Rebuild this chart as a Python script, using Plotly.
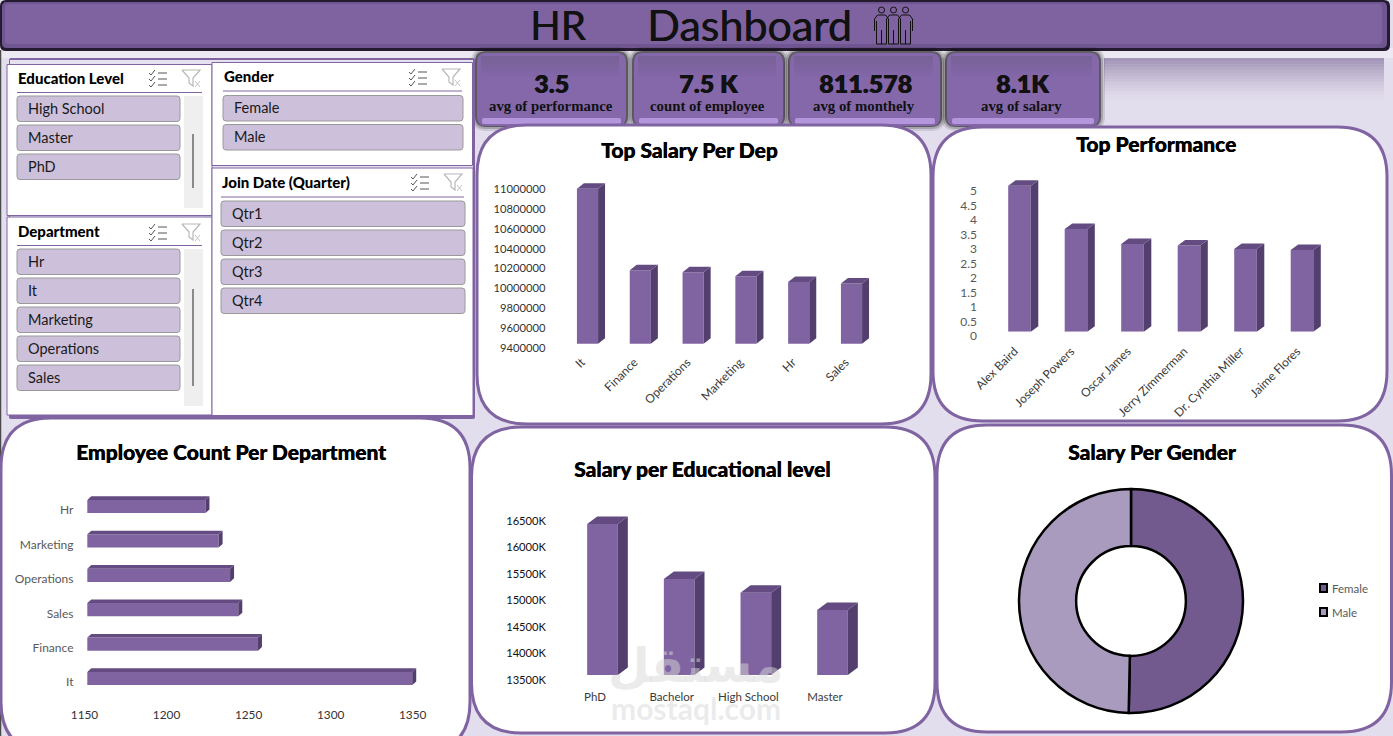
import plotly.graph_objects as go

W, H = 1393, 736

# ---- data ----
salary_departments = ["It", "Finance", "Operations", "Marketing", "Hr", "Sales"]
salary_values = [10960000, 10140000, 10120000, 10080000, 10020000, 10005000]
salary_ticks = [9400000, 9600000, 9800000, 10000000, 10200000, 10400000, 10600000, 10800000, 11000000]

performers = ["Alex Baird", "Joseph Powers", "Oscar James", "Jerry Zimmerman", "Dr. Cynthia Miller", "Jaime Flores"]
performance_values = [5.03, 3.54, 3.02, 2.97, 2.85, 2.82]
performance_ticks = [0, 0.5, 1, 1.5, 2, 2.5, 3, 3.5, 4, 4.5, 5]

count_departments = ["It", "Finance", "Sales", "Operations", "Marketing", "Hr"]
count_values = [1348, 1254, 1242, 1237, 1230, 1222]
count_ticks = [1150, 1200, 1250, 1300, 1350]

education_levels = ["PhD", "Bachelor", "High School", "Master"]
education_values = [16350, 15310, 15050, 14725]
education_ticks = [13500, 14000, 14500, 15000, 15500, 16000, 16500]
education_tick_text = ["13500K", "14000K", "14500K", "15000K", "15500K", "16000K", "16500K"]

genders = ["Female", "Male"]
gender_salary = [30600000, 30200000]

kpi_values = ["3.5", "7.5 K", "811.578", "8.1K"]
kpi_labels = ["avg of performance", "count of employee", "avg of monthely", "avg of salary"]

education_filter = ["High School", "Master", "PhD"]
gender_filter = ["Female", "Male"]
department_filter = ["Hr", "It", "Marketing", "Operations", "Sales"]
quarter_filter = ["Qtr1", "Qtr2", "Qtr3", "Qtr4"]

# ---- palette ----
PURPLE = "#8064a2"
SIDE = "#533f6e"
TOP = "#644c82"
BACK = "#e3deee"
FONT = "Lato"
THICK = "0.4px 0 0 #000000"

shapes, notes = [], []


def fx(x):
    return x / W


def fy(y):
    return 1 - y / H


def rrect_path(x0, y0, x1, y1, r):
    a, b, c, d = fx(x0), fx(x1), fy(y0), fy(y1)
    rx, ry = fx(r), r / H
    return (f"M{a+rx},{c} L{b-rx},{c} Q{b},{c} {b},{c-ry} L{b},{d+ry} Q{b},{d} {b-rx},{d} "
            f"L{a+rx},{d} Q{a},{d} {a},{d+ry} L{a},{c-ry} Q{a},{c} {a+rx},{c} Z")


def box(x0, y0, x1, y1, fill, line=None, width=0, r=0, opacity=1, layer="below"):
    shapes.append(dict(type="path", path=rrect_path(x0, y0, x1, y1, r), xref="paper", yref="paper",
                       fillcolor=fill, opacity=opacity, layer=layer,
                       line=dict(color=line or "rgba(0,0,0,0)", width=width)))


def stroke(points, color, width=1, layer="below"):
    path = ""
    for run in points:
        path += " M" + " L".join(f"{fx(x)},{fy(y)}" for x, y in run)
    shapes.append(dict(type="path", path=path.strip(), xref="paper", yref="paper", layer=layer,
                       line=dict(color=color, width=width)))


def disc(cx, cy, r, color, width=1):
    shapes.append(dict(type="circle", xref="paper", yref="paper", x0=fx(cx - r), x1=fx(cx + r),
                       y0=fy(cy + r), y1=fy(cy - r), layer="below",
                       line=dict(color=color, width=width)))


def text(x, y, s, size, color="#000000", anchor="center", family=FONT, weight=400, shadow=None):
    font = dict(size=size, color=color, family=family, weight=weight)
    if shadow:
        font["shadow"] = shadow
    notes.append(dict(x=fx(x), y=fy(y), xref="paper", yref="paper", text=s, showarrow=False,
                      xanchor=anchor, yanchor="middle", borderpad=0, font=font))


# ---- page background, header and KPI cards ----
box(-2, -2, W + 2, H + 2, BACK)
box(-2, 48, W + 2, 58, "#ece9f3")
stroke([[(0.5, 50), (0.5, H)]], "#4a4a4a", 1.5)

box(0, 0, 1390, 51, "#251b30", r=6)
box(2, 2, 1387, 48, "#6f5690", r=5)
box(5, 4, 1382, 44, "#7f62a0", r=3)
text(558, 25, "HR", 40, "#111111", shadow="0.6px 0 0 #111111")
text(749, 25, "Dashboard", 43, "#111111", shadow="0.6px 0 0 #111111")

for cx in (881.5, 893.5, 905.5):
    disc(cx, 10, 3, "#111111")
    stroke([[(cx - 7, 31), (cx - 7, 19), (cx - 4, 15), (cx + 4, 15), (cx + 7, 19), (cx + 7, 31)],
            [(cx - 5, 44), (cx - 5, 21)], [(cx + 5, 44), (cx + 5, 21)],
            [(cx, 44), (cx, 30)], [(cx - 5, 44), (cx + 5, 44)]], "#111111", 1)

# fading strip to the right of the cards
for step in range(14):
    box(1104, 58 + step * 3, 1384, 61 + step * 3, "#7d6a96", opacity=0.62 * (1 - step / 14) ** 1.4)

card_spans = [(476, 627), (633, 784), (789, 941), (946, 1100)]
for (x0, x1), value, label in zip(card_spans, kpi_values, kpi_labels):
    for grow, shade in ((5, 0.10), (3, 0.18), (1, 0.45)):
        box(x0 - grow, 52 - grow, x1 + grow, 126 + grow, "#000000", r=10 + grow, opacity=shade)
    box(x0 + 1, 53, x1 - 1, 126, "#8468aa", r=9)
    for k in range(7):
        box(x0 + 5, 56 + k * 3, x1 - 8, 59 + k * 3, "#6c5a84", opacity=0.5 * (1 - k / 7))
    box(x0 + 6, 118, x1 - 6, 124, "#b496dc", r=2)
    text((x0 + x1) / 2, 83, value, 25, "#111111", weight=800, shadow="0.4px 0 0 #111111")
    text((x0 + x1) / 2 - 1, 106, label, 14.8, "#111111", family="Liberation Serif", weight=700)

# ---- slicers ----
box(9, 58, 475, 419, PURPLE, r=2)
box(10, 60, 473, 415, "#e6e1ee")
box(7, 64.5, 212, 215.5, "#ffffff", PURPLE, 1)
box(7, 217, 212, 415, "#ffffff", PURPLE, 1)
box(212, 62.5, 472.5, 165.5, "#ffffff", PURPLE, 1)
box(212, 168, 473, 415.5, "#ffffff", PURPLE, 1)


def slicer(title, items, left, right, head_y, rule_y, first_y, step, item_right, icon_a, icon_b, icon_y):
    text(left, head_y - 1, title, 15, "#000000", "left", weight=900)
    stroke([[(left, rule_y), (right, rule_y)]], PURPLE, 1)
    for n, item in enumerate(items):
        top = first_y + n * step
        box(left, top, item_right, top + 25.5, "#cdc0da", "#9a9a9a", 1, r=3)
        text(left + 9.5, top + 12.5, item, 14.5, "#1a1a1a", "left")
    # select-all icon
    for k in range(3):
        y = icon_y + 3 + k * 6
        stroke([[(icon_a, y), (icon_a + 2, y + 2), (icon_a + 6, y - 3)],
                [(icon_a + 9, y), (icon_a + 18, y)]], "#555555", 1)
    # clear-filter icon
    stroke([[(icon_b, icon_y), (icon_b + 18, icon_y), (icon_b + 11, icon_y + 8), (icon_b + 11, icon_y + 16),
             (icon_b + 7, icon_y + 13), (icon_b + 7, icon_y + 8), (icon_b, icon_y)]], "#b8b8b8", 1.2)
    stroke([[(icon_b + 13, icon_y + 11), (icon_b + 18, icon_y + 17)],
            [(icon_b + 18, icon_y + 11), (icon_b + 13, icon_y + 17)]], "#c4c4c4", 1)


slicer("Education Level", education_filter, 17, 202, 79, 92.5, 96, 29, 180, 149, 182, 70)
slicer("Gender", gender_filter, 223, 462, 77, 91, 95.5, 29, 463, 409, 442, 69)
slicer("Join Date (Quarter)", quarter_filter, 221, 464, 183, 197, 201, 29, 465, 411, 444, 174)
slicer("Department", department_filter, 17, 202, 232, 245.5, 249, 29, 180, 149, 182, 224)
for top, bottom, thumb_top, thumb_bottom in [(96, 208, 134, 188), (249, 406, 289, 386)]:
    box(184, top, 203, bottom, "#efefef")
    box(192, thumb_top, 194, thumb_bottom, "#8a8a8a")

# ---- chart panels ----
for x0, y0, x1, y1 in [(477, 125, 931, 424), (933, 127, 1387, 421), (1, 418, 470, 752),
                       (471.5, 427, 935, 733), (937, 425, 1391.5, 732)]:
    box(x0, y0, x1, y1, "#ffffff", PURPLE, 3, r=50)

text(689, 149, "Top Salary Per Dep", 21, "#000000", weight=900, shadow=THICK)
text(1156, 143, "Top Performance", 21, "#000000", weight=900, shadow=THICK)
text(231, 451, "Employee Count Per Department", 21, "#000000", weight=900, shadow=THICK)
text(702, 468, "Salary per Educational level", 21, "#000000", weight=900, shadow=THICK)
text(1152, 451, "Salary Per Gender", 21, "#000000", weight=900, shadow=THICK)

fig = go.Figure()
layout_axes = {}
axis_no = [0]


def new_pair():
    axis_no[0] += 1
    n = axis_no[0]
    return n, ("x" if n == 1 else f"x{n}"), ("y" if n == 1 else f"y{n}")


def axis_key(letter, n):
    return f"{letter}axis" if n == 1 else f"{letter}axis{n}"


def faces(tops, half, dx, dy, low, horizontal=False):
    """Side and top faces of the extruded bars, derived from the bar values."""
    side_a, side_b, top_a, top_b = [], [], [], []
    for i, v in enumerate(tops):
        l, r = i - half, i + half
        if horizontal:
            side = [(v, l), (v + dx, l + dy), (v + dx, r + dy), (v, r), (v, l)]
            top = [(low, r), (low + dx, r + dy), (v + dx, r + dy), (v, r), (low, r)]
        else:
            side = [(r, low), (r + dx, low + dy), (r + dx, v + dy), (r, v), (r, low)]
            top = [(l, v), (l + dx, v + dy), (r + dx, v + dy), (r, v), (l, v)]
        for pts, xs, ys in ((side, side_a, side_b), (top, top_a, top_b)):
            xs.extend([p[0] for p in pts] + [None])
            ys.extend([p[1] for p in pts] + [None])
    return (side_a, side_b), (top_a, top_b)


def column_chart(cats, vals, ticks, tick_text, first_c, spacing, base_px, unit_px, vmin, vmax,
                 width, depth, label_dy, tick_right, x_label_y, x_label_dx, angle, y_color,
                 x_size=12, y_size=11.2):
    n, xa, ya = new_pair()
    top_px = base_px - (vmax - vmin) * unit_px
    span = [-0.5, len(cats) - 0.5 + 0.6]
    left = first_c - spacing / 2
    right = left + (span[1] - span[0]) * spacing
    layout_axes[axis_key("x", n)] = dict(domain=[fx(left), fx(right)], range=span, visible=False,
                                         anchor=ya, fixedrange=True, automargin=False)
    layout_axes[axis_key("y", n)] = dict(domain=[fy(base_px), fy(top_px)], range=[vmin, vmax], visible=False,
                                         anchor=xa, fixedrange=True, automargin=False)
    fig.add_bar(x=list(range(len(cats))), y=vals, width=width, marker=dict(color=PURPLE, line=dict(width=0)),
                xaxis=xa, yaxis=ya, customdata=cats, hovertemplate="%{customdata}: %{y}<extra></extra>")
    side, top = faces(vals, width / 2, depth[0] / spacing, depth[1] / unit_px, vmin)
    for (xs, ys), color in ((side, SIDE), (top, TOP)):
        fig.add_scatter(x=xs, y=ys, mode="lines", fill="toself", fillcolor=color, line=dict(width=0),
                        hoverinfo="skip", xaxis=xa, yaxis=ya)
    # tick labels sit on their own axes, offset from the bars' floor plane
    m, xb, yb = new_pair()
    layout_axes[axis_key("x", m)] = dict(domain=[fx(left + x_label_dx), fx(right + x_label_dx)], range=span,
                                         anchor="free", position=fy(x_label_y), tickmode="array",
                                         tickvals=list(range(len(cats))), ticktext=cats, tickangle=angle,
                                         showgrid=False, zeroline=False, showline=False, ticks="",
                                         tickfont=dict(family=FONT, size=x_size, color="#3a3a3a"), fixedrange=True,
                                         automargin=False)
    layout_axes[axis_key("y", m)] = dict(domain=[fy(base_px + label_dy), fy(top_px + label_dy)], range=[vmin, vmax],
                                         anchor="free", position=fx(tick_right), tickmode="array",
                                         tickvals=ticks, ticktext=tick_text, showgrid=False, zeroline=False,
                                         showline=False, ticks="",
                                         tickfont=dict(family=FONT, size=y_size, color=y_color), fixedrange=True,
                                         automargin=False)
    fig.add_scatter(x=[None], y=[None], xaxis=xb, yaxis=yb, hoverinfo="skip")


column_chart(salary_departments, salary_values, salary_ticks, [str(t) for t in salary_ticks],
             587.5, 52.8, 343.7, 159 / 1600000, 9400000, 11200000, 0.4, (7, 5.5), 4.3, 545.5, 352, -6, -45, "#333333")
column_chart(performers, performance_values, performance_ticks, [str(t) for t in performance_ticks],
             1019.5, 56.5, 331.7, 29.0, 0, 5.6, 0.4, (7.5, 5.5), 4.2, 977, 341, -5, -45, "#595959", y_size=12)
column_chart(education_levels, education_values, education_ticks, education_tick_text,
             602.5, 76.67, 675, 0.053, 13500, 16800, 0.4, (10, 7.5), 5, 546, 688, -7.5, 0, "#111111", x_size=11.5)

# horizontal bars
n, xa, ya = new_pair()
unit_x, unit_y = 328.2 / 200, 34.4
base_x = 87.3
span_x = [1150, 1380]
span_y = [-0.5, 5.7]
y_bottom = 678.5 + 0.5 * unit_y
y_top = y_bottom - (span_y[1] - span_y[0]) * unit_y
x_right = base_x + (span_x[1] - span_x[0]) * unit_x
layout_axes[axis_key("x", n)] = dict(domain=[fx(base_x), fx(x_right)], range=span_x, visible=False, anchor=ya,
                                     fixedrange=True, automargin=False)
layout_axes[axis_key("y", n)] = dict(domain=[fy(y_bottom), fy(y_top)], range=span_y, visible=False, anchor=xa,
                                     fixedrange=True, automargin=False)
bar_half = 13.2 / unit_y / 2
fig.add_bar(y=list(range(6)), x=count_values, orientation="h", width=bar_half * 2,
            marker=dict(color=PURPLE, line=dict(width=0)), xaxis=xa, yaxis=ya,
            customdata=count_departments, hovertemplate="%{customdata}: %{x}<extra></extra>")
side, top = faces(count_values, bar_half, 4 / unit_x, 3.6 / unit_y, 1150, horizontal=True)
for (xs, ys), color in ((side, SIDE), (top, TOP)):
    fig.add_scatter(x=xs, y=ys, mode="lines", fill="toself", fillcolor=color, line=dict(width=0),
                    hoverinfo="skip", xaxis=xa, yaxis=ya)
m, xb, yb = new_pair()
layout_axes[axis_key("x", m)] = dict(domain=[fx(base_x - 2.8), fx(x_right - 2.8)], range=span_x, anchor="free",
                                     position=fy(706), tickmode="array", tickvals=count_ticks, ticks="",
                                     showgrid=False, zeroline=False, showline=False, fixedrange=True,
                                     automargin=False, tickfont=dict(family=FONT, size=11.8, color="#333333"))
layout_axes[axis_key("y", m)] = dict(domain=[fy(y_bottom + 3.6), fy(y_top + 3.6)], range=span_y, anchor="free",
                                     position=fx(73.5), tickmode="array", tickvals=list(range(6)),
                                     ticktext=count_departments, ticks="", showgrid=False, zeroline=False,
                                     showline=False, fixedrange=True, automargin=False,
                                     tickfont=dict(family=FONT, size=12, color="#595959"))
fig.add_scatter(x=[None], y=[None], xaxis=xb, yaxis=yb, hoverinfo="skip")

# donut
fig.add_pie(labels=genders, values=gender_salary, hole=0.49, sort=False, direction="clockwise", rotation=0,
            domain=dict(x=[fx(1019), fx(1243)], y=[fy(713), fy(489)]), textinfo="none", showlegend=False,
            automargin=False, marker=dict(colors=["#725a8e", "#a99bbd"], line=dict(color="#000000", width=2.5)))
for y, name, color in zip((588, 612), genders, ("#725a8e", "#a99bbd")):
    box(1320, y - 4, 1327, y + 4, color, "#000000", 2)
    text(1330.5, y, name, 11.5, "#595959", "left")

# site mark across the lower middle panel
text(696, 665, "مستقل", 48, "rgba(215,215,215,0.5)", family="DejaVu Sans", weight=700)
text(696, 708, "mostaql.com", 30, "rgba(215,215,215,0.5)", weight=700)

fig.update_layout(width=W, height=H, autosize=False, margin=dict(l=0, r=0, t=0, b=0, pad=0, autoexpand=False),
                  paper_bgcolor="#ffffff", plot_bgcolor="rgba(0,0,0,0)", showlegend=False,
                  shapes=shapes, annotations=notes, font=dict(family=FONT), **layout_axes)
fig.write_html("out.html", config=dict(displayModeBar=False))
